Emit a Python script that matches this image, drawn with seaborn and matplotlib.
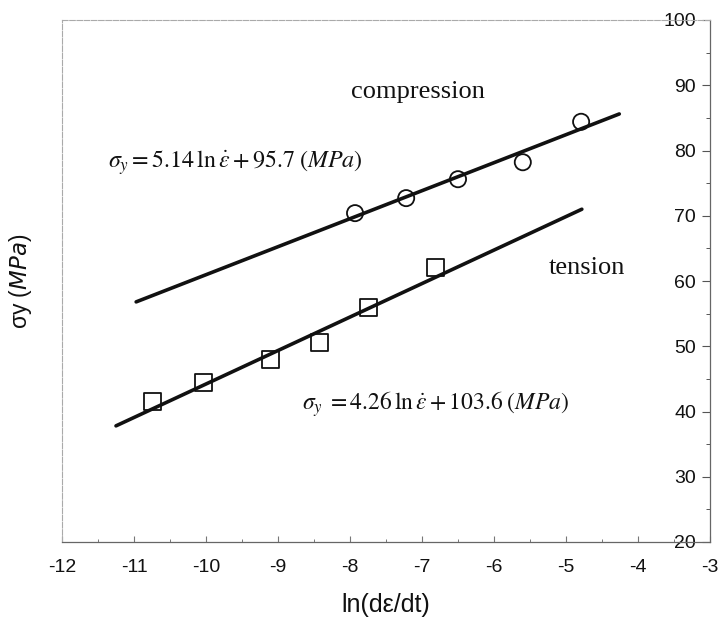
import matplotlib
matplotlib.use("Agg")
import matplotlib.pyplot as plt
import seaborn as sns
from matplotlib.ticker import MultipleLocator

# ---- data ----
comp_x = [-7.93, -7.22, -6.50, -5.60, -4.79]
comp_y = [70.4, 72.7, 75.6, 78.2, 84.4]
tens_x = [-10.74, -10.04, -9.10, -8.42, -7.74, -6.81]
tens_y = [41.5, 44.4, 48.0, 50.6, 56.0, 62.1]
comp_fit_x = [-10.97, -4.26]
comp_fit_y = [56.8, 85.6]
tens_fit_x = [-11.25, -4.78]
tens_fit_y = [37.8, 71.0]
x_ticks = [-12, -11, -10, -9, -8, -7, -6, -5, -4, -3]
y_ticks = [20, 30, 40, 50, 60, 70, 80, 90, 100]

sns.set_style("white")
plt.rcParams["font.family"] = ["Liberation Sans", "DejaVu Sans"]

W, H = 722, 624
fig = plt.figure(figsize=(W / 100, H / 100), dpi=100)
L, R, T, B = 62, 710, 20, 542
ax = fig.add_axes([L / W, 1 - B / H, (R - L) / W, (B - T) / H])

ink = "#111111"
sns.lineplot(x=comp_fit_x, y=comp_fit_y, color=ink, lw=2.6, ax=ax, legend=False)
sns.lineplot(x=tens_fit_x, y=tens_fit_y, color=ink, lw=2.6, ax=ax, legend=False)
sns.scatterplot(x=comp_x, y=comp_y, marker="o", s=135, facecolor="none",
                edgecolor=ink, linewidth=1.3, ax=ax, zorder=3, legend=False)
sns.scatterplot(x=tens_x, y=tens_y, marker="s", s=150, facecolor="none",
                edgecolor=ink, linewidth=1.3, ax=ax, zorder=3, legend=False)

ax.set_xlim(-12, -3)
ax.set_ylim(20, 100)
ax.set_xticks(x_ticks)
ax.set_xticklabels([str(v) for v in x_ticks])
ax.set_yticks(y_ticks)
ax.set_yticklabels([str(v) for v in y_ticks])
ax.xaxis.set_minor_locator(MultipleLocator(0.5))
ax.yaxis.set_minor_locator(MultipleLocator(5))

ax.tick_params(axis="x", which="both", direction="in", bottom=True, top=False,
               colors="#777777", labelcolor="#111111", labelsize=14, pad=12)
ax.tick_params(axis="x", which="major", length=4, width=0.8)
ax.tick_params(axis="x", which="minor", length=2, width=0.7)
ax.tick_params(axis="y", which="both", direction="in", left=False, right=True,
               labelleft=False, labelright=True, colors="#555555",
               labelcolor="#111111", labelsize=14, pad=-10)
ax.tick_params(axis="y", which="major", length=6, width=0.8)
ax.tick_params(axis="y", which="minor", length=3, width=0.7)
for t in ax.yaxis.get_major_ticks():
    t.label2.set_horizontalalignment("right")

for side in ["left", "top"]:
    ax.spines[side].set_color("#aaaaaa")
    ax.spines[side].set_linewidth(0.8)
    ax.spines[side].set_linestyle((0, (5, 1.5)))
for side in ["right", "bottom"]:
    ax.spines[side].set_color("#666666")
    ax.spines[side].set_linewidth(0.9)

ax.set_xlabel("ln(dε/dt)", fontsize=18, color="#111111")
ax.xaxis.set_label_coords(0.5, -0.098)
ax.set_ylabel(r"σy ($\mathit{MPa}$)", fontsize=16.5, color="#111111")
ax.yaxis.label.set_math_fontfamily("dejavusans")
ax.yaxis.set_label_position("left")
ax.yaxis.set_label_coords(-0.043, 0.5)

serif = ["Liberation Serif", "DejaVu Serif"]
ax.text(0.549, 0.862, "compression", transform=ax.transAxes, fontsize=19,
        family=serif, ha="center", va="center", color=ink)
ax.text(0.810, 0.525, "tension", transform=ax.transAxes, fontsize=19,
        family=serif, ha="center", va="center", color=ink)
ax.text(0.071, 0.726, r"$\sigma_y = 5.14\,\ln\dot{\varepsilon} + 95.7\;(MPa)$",
        transform=ax.transAxes, fontsize=17.3, math_fontfamily="stix",
        ha="left", va="center", color=ink)
ax.text(0.370, 0.264, r"$\sigma_y\; = 4.26\,\ln\dot{\varepsilon} + 103.6\;(MPa)$",
        transform=ax.transAxes, fontsize=17, math_fontfamily="stix",
        ha="left", va="center", color=ink)

fig.savefig("out.png", dpi=100)
